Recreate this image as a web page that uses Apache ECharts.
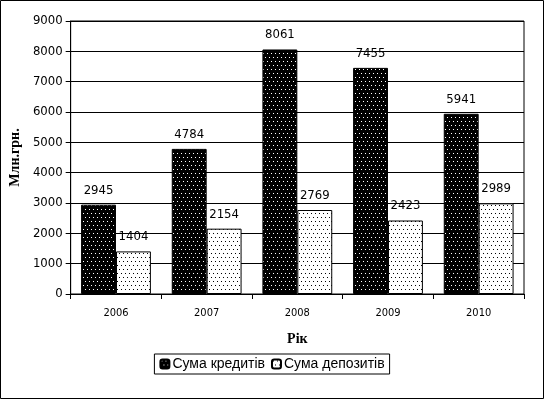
<!DOCTYPE html>
<html>
<head>
<meta charset="utf-8">
<script src="https://cdn.jsdelivr.net/npm/echarts@6/dist/echarts.min.js"></script>
<style>
  html, body { margin: 0; padding: 0; background: #fff; }
  #grafico { width: 544px; height: 399px; }
</style>
</head>
<body>
<div id="grafico"></div>
<script>
// Datos del gráfico
const years = ['2006', '2007', '2008', '2009', '2010'];
const credits = [2945, 4784, 8061, 7455, 5941];
const deposits = [1404, 2154, 2769, 2423, 2989];
const seriesNames = ['Сума кредитів', 'Сума депозитів'];

// Patrón de puntos (fondo + puntos escalonados)
function dots(bg, fg) {
    const c = document.createElement('canvas');
    c.width = 8; c.height = 8;
    const ctx = c.getContext('2d');
    ctx.fillStyle = bg;
    ctx.fillRect(0, 0, 8, 8);
    ctx.fillStyle = fg;
    ctx.fillRect(1, 1, 1, 1);
    ctx.fillRect(5, 1, 1, 1);
    ctx.fillRect(3, 5, 1, 1);
    ctx.fillRect(7, 5, 1, 1);
    return { image: c, repeat: 'repeat' };
}

const numFont = '"DejaVu Sans Condensed", "Liberation Sans", sans-serif';
const titleStyle = { fontFamily: '"Liberation Serif", serif', fontWeight: 'bold', fontSize: 14, color: '#000' };

const myChart = echarts.init(document.getElementById('grafico'));

const barLabel = {
    show: true,
    position: 'top',
    distance: 8,
    color: '#000',
    fontSize: 13,
    fontFamily: numFont
};

const option = {
    animation: false,
    graphic: [{
        type: 'rect',
        shape: { x: 0.5, y: 0.5, width: 543, height: 398 },
        style: { fill: 'none', stroke: '#000', lineWidth: 1 },
        silent: true
    }],
    grid: {
        left: 68, right: 20, top: 21, bottom: 105,
        show: true, borderColor: '#000', borderWidth: 1, backgroundColor: 'transparent'
    },
    legend: {
        data: seriesNames,
        bottom: 25,
        left: 'center',
        itemWidth: 9,
        itemHeight: 9,
        itemGap: 6,
        padding: [3, 5],
        borderColor: '#000',
        borderWidth: 1,
        textStyle: { fontSize: 14, color: '#000', fontFamily: '"Liberation Sans", Arial, sans-serif', padding: [0, 0, 0, -2] }
    },
    xAxis: {
        type: 'category',
        data: years,
        name: 'Рік',
        nameLocation: 'middle',
        nameGap: 38,
        nameTextStyle: titleStyle,
        axisLine: { lineStyle: { color: '#000', width: 1 } },
        axisTick: { show: true, length: 5, lineStyle: { color: '#000' } },
        axisLabel: { color: '#000', fontSize: 11, fontFamily: numFont, margin: 14 }
    },
    yAxis: {
        type: 'value',
        min: 0,
        max: 9000,
        interval: 1000,
        name: 'Млн.грн.',
        nameLocation: 'middle',
        nameGap: 44,
        nameTextStyle: titleStyle,
        axisLine: { show: true, lineStyle: { color: '#000', width: 1 } },
        axisTick: { show: true, length: 5, lineStyle: { color: '#000' } },
        axisLabel: { color: '#000', fontSize: 13, fontFamily: numFont, margin: 8, formatter: v => String(v) },
        splitLine: { lineStyle: { color: '#000', width: 1 } }
    },
    series: [
        {
            name: seriesNames[0],
            type: 'bar',
            data: credits,
            barGap: '0%',
            barCategoryGap: '23%',
            itemStyle: { color: dots('#000', '#fff'), borderColor: '#000', borderWidth: 1 },
            label: barLabel
        },
        {
            name: seriesNames[1],
            type: 'bar',
            data: deposits,
            barGap: '0%',
            barCategoryGap: '23%',
            itemStyle: { color: dots('#fff', '#000'), borderColor: '#000', borderWidth: 1 },
            label: barLabel
        }
    ]
};

option && myChart.setOption(option);
</script>
</body>
</html>
